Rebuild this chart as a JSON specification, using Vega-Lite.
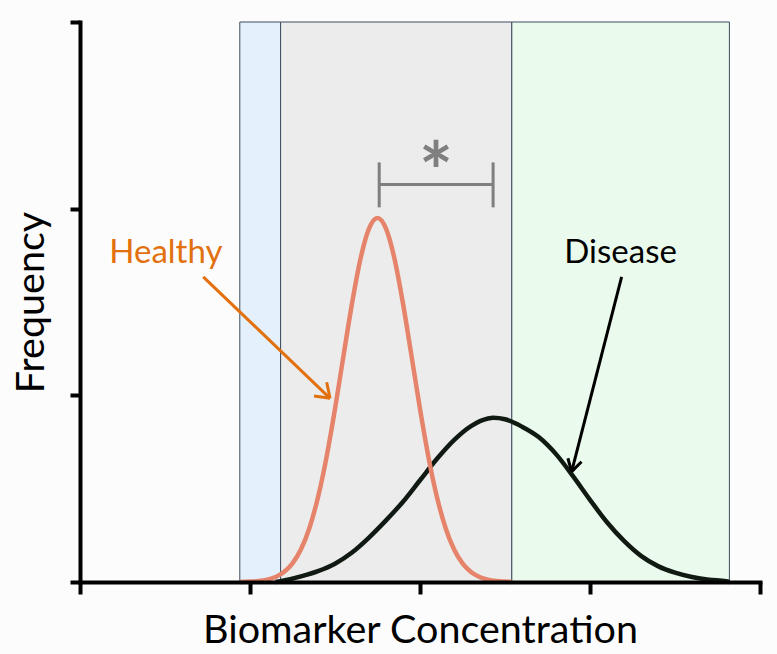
{
  "$schema": "https://vega.github.io/schema/vega-lite/v6.json",
  "width": 680,
  "height": 560,
  "autosize": {"type": "none"},
  "padding": {"left": 80, "top": 22, "right": 17, "bottom": 72},
  "background": "#fcfcfc",
  "config": {"view": {"stroke": null}, "font": "Lato"},
  "datasets": {
    "zones": [
      {"zone": "low", "x": 0.94, "x2": 1.18},
      {"zone": "mid", "x": 1.18, "x2": 2.54},
      {"zone": "high", "x": 2.54, "x2": 3.82}
    ],
    "healthy": [
      {"x": 0.94, "y": 0}, {"x": 1.0, "y": 0.0024}, {"x": 1.05, "y": 0.0057}, {"x": 1.1, "y": 0.0128},
      {"x": 1.15, "y": 0.0269}, {"x": 1.2, "y": 0.0533}, {"x": 1.25, "y": 0.0997}, {"x": 1.3, "y": 0.175},
      {"x": 1.35, "y": 0.291}, {"x": 1.4, "y": 0.454}, {"x": 1.45, "y": 0.668}, {"x": 1.5, "y": 0.927},
      {"x": 1.55, "y": 1.212}, {"x": 1.6, "y": 1.492}, {"x": 1.65, "y": 1.732}, {"x": 1.7, "y": 1.893},
      {"x": 1.75, "y": 1.95}, {"x": 1.8, "y": 1.893}, {"x": 1.85, "y": 1.732}, {"x": 1.9, "y": 1.492},
      {"x": 1.95, "y": 1.212}, {"x": 2.0, "y": 0.927}, {"x": 2.05, "y": 0.668}, {"x": 2.1, "y": 0.454},
      {"x": 2.15, "y": 0.291}, {"x": 2.2, "y": 0.175}, {"x": 2.25, "y": 0.0997}, {"x": 2.3, "y": 0.0533},
      {"x": 2.35, "y": 0.0269}, {"x": 2.4, "y": 0.0128}, {"x": 2.45, "y": 0.0057}, {"x": 2.5, "y": 0.0024},
      {"x": 2.54, "y": 0}
    ],
    "disease": [
      {"x": 1.15, "y": 0}, {"x": 1.2, "y": 0.008}, {"x": 1.3, "y": 0.03}, {"x": 1.4, "y": 0.058},
      {"x": 1.5, "y": 0.098}, {"x": 1.6, "y": 0.158}, {"x": 1.7, "y": 0.238}, {"x": 1.8, "y": 0.33},
      {"x": 1.9, "y": 0.43}, {"x": 2.0, "y": 0.545}, {"x": 2.1, "y": 0.66}, {"x": 2.2, "y": 0.76},
      {"x": 2.3, "y": 0.835}, {"x": 2.4, "y": 0.876}, {"x": 2.43, "y": 0.88}, {"x": 2.5, "y": 0.872},
      {"x": 2.6, "y": 0.832}, {"x": 2.7, "y": 0.775}, {"x": 2.8, "y": 0.685}, {"x": 2.9, "y": 0.567},
      {"x": 3.0, "y": 0.44}, {"x": 3.1, "y": 0.32}, {"x": 3.2, "y": 0.22}, {"x": 3.3, "y": 0.14},
      {"x": 3.4, "y": 0.085}, {"x": 3.5, "y": 0.05}, {"x": 3.6, "y": 0.027}, {"x": 3.7, "y": 0.012},
      {"x": 3.8, "y": 0.004}, {"x": 3.82, "y": 0}
    ],
    "segs": [
      {"kind": "bracket", "x": 1.76, "y": 2.13, "x2": 2.43, "y2": 2.13},
      {"kind": "bracket", "x": 1.76, "y": 2.007, "x2": 1.76, "y2": 2.248},
      {"kind": "bracket", "x": 2.43, "y": 2.007, "x2": 2.43, "y2": 2.248},
      {"kind": "healthy", "x": 0.725, "y": 1.635, "x2": 1.471, "y2": 0.984},
      {"kind": "healthy", "x": 1.451, "y": 1.07, "x2": 1.471, "y2": 0.984},
      {"kind": "healthy", "x": 1.377, "y": 0.997, "x2": 1.471, "y2": 0.984},
      {"kind": "disease", "x": 3.186, "y": 1.635, "x2": 2.892, "y2": 0.591},
      {"kind": "disease", "x": 2.95, "y": 0.644, "x2": 2.892, "y2": 0.591},
      {"kind": "disease", "x": 2.87, "y": 0.663, "x2": 2.892, "y2": 0.591}
    ],
    "labels": [
      {"kind": "healthy", "text": "Healthy", "x": 0.505, "y": 1.709},
      {"kind": "disease", "text": "Disease", "x": 3.18, "y": 1.709}
    ],
    "star": [
      {"text": "*", "x": 2.094, "y": 2.043}
    ]
  },
  "layer": [
    {
      "data": {"name": "zones"},
      "mark": {"type": "rect", "stroke": "#3c4c5e", "strokeWidth": 1},
      "encoding": {
        "x": {
          "field": "x", "type": "quantitative",
          "scale": {"domain": [0, 4], "nice": false, "zero": false},
          "axis": {
            "title": "Biomarker Concentration", "values": [0, 1, 2, 3, 4], "labels": false,
            "grid": false, "tickSize": 12, "tickWidth": 4, "tickColor": "#000000",
            "domainColor": "#000000", "domainWidth": 4, "domainCap": "square",
            "titleFontSize": 39.5, "titleFont": "Lato", "titleFontWeight": "normal",
            "titleColor": "#000000", "titlePadding": 15, "zindex": 1
          }
        },
        "x2": {"field": "x2"},
        "y": {
          "datum": 0, "type": "quantitative",
          "scale": {"domain": [0, 3], "nice": false, "zero": false},
          "axis": {
            "title": "Frequency", "values": [0, 1, 2, 3], "labels": false,
            "grid": false, "tickSize": 10, "tickWidth": 4, "tickColor": "#000000",
            "domainColor": "#000000", "domainWidth": 4, "domainCap": "square",
            "titleFontSize": 39.5, "titleFont": "Lato", "titleFontWeight": "normal",
            "titleColor": "#000000", "titlePadding": 17, "zindex": 1
          }
        },
        "y2": {"datum": 3},
        "fill": {
          "field": "zone", "type": "nominal",
          "scale": {"domain": ["low", "mid", "high"], "range": ["#e4f1fc", "#ececec", "#eafaec"]},
          "legend": null
        }
      }
    },
    {
      "data": {"name": "disease"},
      "mark": {"type": "line", "color": "#101a12", "strokeWidth": 4.5, "interpolate": "monotone"},
      "encoding": {
        "x": {"field": "x", "type": "quantitative"},
        "y": {"field": "y", "type": "quantitative"}
      }
    },
    {
      "data": {"name": "healthy"},
      "mark": {"type": "line", "color": "#e5836b", "strokeWidth": 4.5, "interpolate": "monotone"},
      "encoding": {
        "x": {"field": "x", "type": "quantitative"},
        "y": {"field": "y", "type": "quantitative"}
      }
    },
    {
      "data": {"name": "segs"},
      "mark": {"type": "rule", "strokeWidth": 3, "strokeCap": "butt"},
      "encoding": {
        "x": {"field": "x", "type": "quantitative"},
        "y": {"field": "y", "type": "quantitative"},
        "x2": {"field": "x2"},
        "y2": {"field": "y2"},
        "color": {
          "field": "kind", "type": "nominal",
          "scale": {"domain": ["bracket", "healthy", "disease"], "range": ["#7f7f7f", "#e2700e", "#000000"]},
          "legend": null
        }
      }
    },
    {
      "data": {"name": "labels"},
      "mark": {"type": "text", "fontSize": 33, "font": "Lato", "align": "center", "baseline": "alphabetic"},
      "encoding": {
        "x": {"field": "x", "type": "quantitative"},
        "y": {"field": "y", "type": "quantitative"},
        "text": {"field": "text"},
        "color": {
          "field": "kind", "type": "nominal",
          "scale": {"domain": ["bracket", "healthy", "disease"], "range": ["#7f7f7f", "#e2700e", "#000000"]},
          "legend": null
        }
      }
    },
    {
      "data": {"name": "star"},
      "mark": {"type": "text", "fontSize": 80, "font": "Lato", "fontWeight": "bold", "align": "center", "baseline": "alphabetic", "color": "#7f7f7f"},
      "encoding": {
        "x": {"field": "x", "type": "quantitative"},
        "y": {"field": "y", "type": "quantitative"},
        "text": {"field": "text"}
      }
    }
  ]
}
